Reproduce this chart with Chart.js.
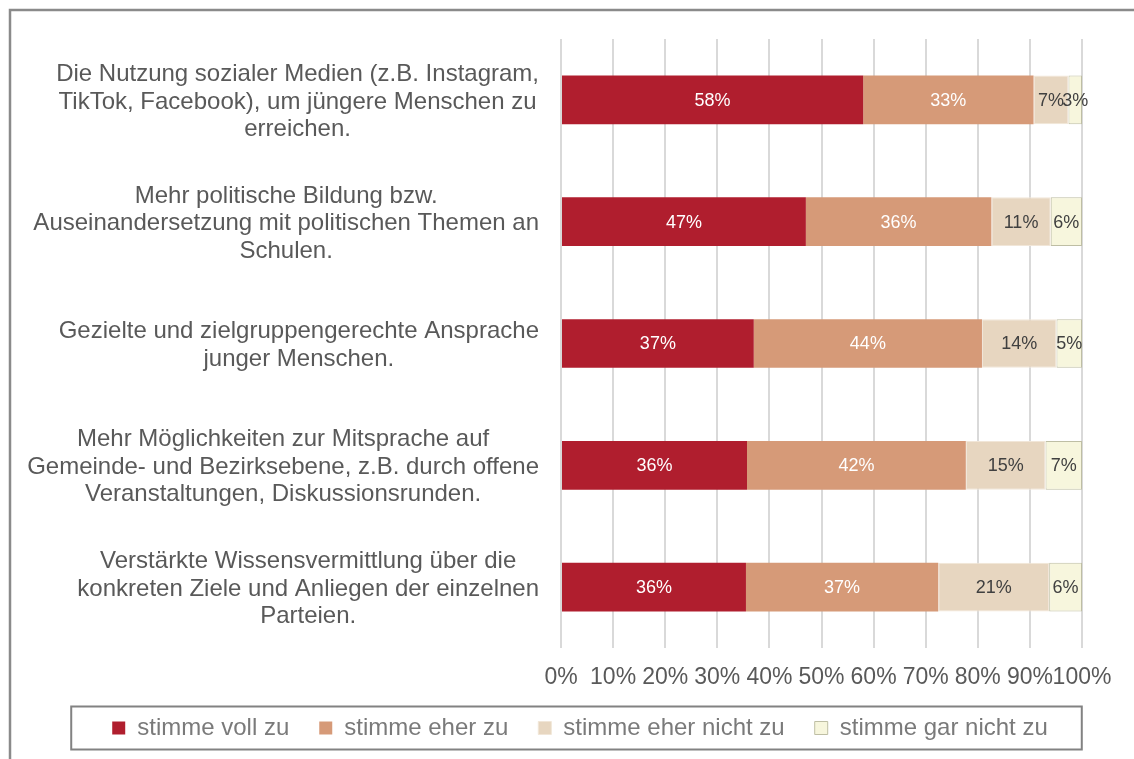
<!DOCTYPE html>
<html>
<head>
<meta charset="utf-8">
<script src="https://cdn.jsdelivr.net/npm/chart.js@4"></script>
<style>
  html, body { margin: 0; padding: 0; background: #fff; }
  #wrap { width: 1134px; height: 759px; position: relative; }
</style>
</head>
<body>
<div id="wrap"><canvas id="chart"></canvas></div>
<script>
const categories = [
  ["Die Nutzung sozialer Medien (z.B. Instagram,", "TikTok, Facebook), um jüngere Menschen zu", "erreichen."],
  ["Mehr politische Bildung bzw.", "Auseinandersetzung mit politischen Themen an", "Schulen."],
  ["Gezielte und zielgruppengerechte Ansprache", "junger Menschen."],
  ["Mehr Möglichkeiten zur Mitsprache auf", "Gemeinde- und Bezirksebene, z.B. durch offene", "Veranstaltungen, Diskussionsrunden."],
  ["Verstärkte Wissensvermittlung über die", "konkreten Ziele und Anliegen der einzelnen", "Parteien."]
];
const seriesNames = ["stimme voll zu", "stimme eher zu", "stimme eher nicht zu", "stimme gar nicht zu"];
const vollZu = [58.0, 47.0, 37.0, 35.7, 35.5];
const eherZu = [32.7, 35.6, 43.8, 42.0, 36.9];
const eherNichtZu = [6.7, 11.4, 14.3, 15.3, 21.3];
const garNichtZu = [2.6, 6.0, 4.9, 7.0, 6.3];
const xTicks = [0, 10, 20, 30, 40, 50, 60, 70, 80, 90, 100];

const FONT = '"Liberation Sans", Arial, sans-serif';

// outer frame + white background, legend nudged up a little
const framePlugin = {
  id: "frame",
  afterLayout(chart) {
    chart.legend.top -= 4;
    chart.legend.bottom -= 4;
  },
  beforeDraw(chart) {
    const ctx = chart.ctx;
    ctx.save();
    ctx.fillStyle = "#fff";
    ctx.fillRect(0, 0, chart.width, chart.height);
    ctx.restore();
  },
  afterDraw(chart) {
    const ctx = chart.ctx;
    ctx.save();
    ctx.strokeStyle = "#8a8a8a";
    ctx.lineWidth = 2.5;
    ctx.strokeRect(10, 10, 1300, 900);
    // border round the legend
    const boxes = chart.legend.legendHitBoxes;
    if (boxes && boxes.length) {
      const first = boxes[0], last = boxes[boxes.length - 1];
      const left = first.left - 41;
      const right = last.left + last.width + 34;
      const cy = first.top + first.height / 2;
      ctx.strokeStyle = "#828282";
      ctx.lineWidth = 2;
      ctx.strokeRect(left, cy - 21.5, right - left, 43);
    }
    ctx.restore();
  }
};

// category labels: each block right edge fixed, lines centred inside the block
const categoryLabels = {
  id: "categoryLabels",
  afterDraw(chart) {
    const ctx = chart.ctx;
    const y = chart.scales.y;
    const rightEdge = chart.chartArea.left - 22;
    ctx.save();
    ctx.font = "24px " + FONT;
    ctx.fillStyle = "#595959";
    ctx.textAlign = "center";
    ctx.textBaseline = "middle";
    const lh = 27.5;
    categories.forEach((lines, i) => {
      const widest = Math.max(...lines.map(l => ctx.measureText(l).width));
      const cx = rightEdge - widest / 2;
      const cy = y.getPixelForValue(i) + 2;
      lines.forEach((l, j) => {
        ctx.fillText(l, cx, cy + (j - (lines.length - 1) / 2) * lh);
      });
    });
    ctx.restore();
  }
};

// value labels in the bars
const valueLabels = {
  id: "valueLabels",
  afterDatasetsDraw(chart) {
    const ctx = chart.ctx;
    ctx.save();
    ctx.font = "18px " + FONT;
    ctx.textAlign = "center";
    ctx.textBaseline = "middle";
    chart.data.datasets.forEach((ds, di) => {
      const meta = chart.getDatasetMeta(di);
      ctx.fillStyle = di < 2 ? "#ffffff" : "#404040";
      meta.data.forEach((bar, i) => {
        const x = (bar.x + bar.base) / 2;
        ctx.fillText(Math.round(ds.data[i]) + "%", x, bar.y + 1);
      });
    });
    ctx.restore();
  }
};

const colors = ["#B01E2E", "#D69A78", "#E7D6C0", "#F7F6DD"];

new Chart(document.getElementById("chart"), {
  type: "bar",
  data: {
    labels: categories,
    datasets: [
      { label: seriesNames[0], data: vollZu, backgroundColor: colors[0], borderWidth: 0 },
      { label: seriesNames[1], data: eherZu, backgroundColor: colors[1], borderWidth: 0 },
      { label: seriesNames[2], data: eherNichtZu, backgroundColor: colors[2], borderColor: "#f1e6d8", borderWidth: 1, borderSkipped: false },
      { label: seriesNames[3], data: garNichtZu, backgroundColor: colors[3], borderColor: "#BEBEA4", borderWidth: 1, borderSkipped: false }
    ]
  },
  options: {
    indexAxis: "y",
    responsive: true,
    maintainAspectRatio: false,
    animation: false,
    categoryPercentage: 1,
    barPercentage: 0.4,
    layout: { padding: { top: 39, left: 78, right: 52, bottom: 5 } },
    plugins: {
      legend: {
        position: "bottom",
        labels: {
          boxWidth: 13,
          boxHeight: 13,
          padding: 30,
          color: "#7a7a7a",
          font: { size: 24, family: FONT }
        }
      },
      tooltip: { enabled: false }
    },
    scales: {
      x: {
        stacked: true,
        min: 0,
        max: 100,
        afterBuildTicks(scale) {
          scale.ticks = xTicks.map(v => ({ value: v }));
        },
        afterFit(scale) { scale.height = 42; },
        grid: { color: "#D9D9D9", lineWidth: 2, drawTicks: false },
        border: { display: false },
        ticks: {
          padding: 16,
          maxRotation: 0,
          minRotation: 0,
          autoSkip: false,
          color: "#595959",
          font: { size: 23, family: FONT },
          callback: v => v + "%"
        }
      },
      y: {
        stacked: true,
        grid: { display: false },
        border: { display: false },
        ticks: { display: false },
        afterFit(scale) { scale.width = 483; }
      }
    }
  },
  plugins: [framePlugin, categoryLabels, valueLabels]
});
</script>
</body>
</html>
